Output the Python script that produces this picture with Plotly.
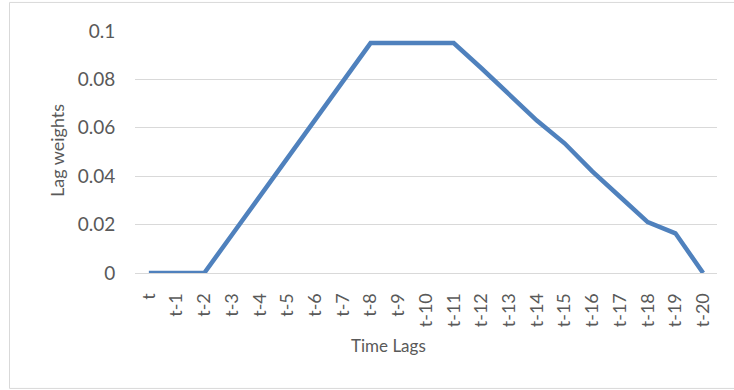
import plotly.graph_objects as go

lags = ["t"] + [f"t-{i}" for i in range(1, 21)]
weights = [0, 0, 0, 0.0158, 0.0317, 0.0475, 0.0633, 0.0792, 0.095, 0.095, 0.095,
           0.095, 0.0846, 0.0736, 0.063, 0.0536, 0.042, 0.0315, 0.021, 0.0164, 0]
y_ticks = [0, 0.02, 0.04, 0.06, 0.08, 0.1]
y_tick_text = ["0", "0.02", "0.04", "0.06", "0.08", "0.1"]

FONT = "Lato, Open Sans, sans-serif"
GREY = "#595959"

fig = go.Figure()
fig.add_trace(go.Scatter(x=lags, y=weights, mode="lines",
                         line=dict(color="#4f81bd", width=4.5), showlegend=False))

fig.update_layout(
    width=734, height=390,
    margin=dict(l=135, r=17, t=31, b=117, autoexpand=False),
    paper_bgcolor="white", plot_bgcolor="white",
    font=dict(family=FONT, size=18, color=GREY),
    xaxis=dict(
        type="category", range=[-0.5, 20.5], tickangle=-90, automargin=False,
        showgrid=False, showline=False, zeroline=False,
        ticks="outside", ticklen=12, tickcolor="rgba(0,0,0,0)",
        tickfont=dict(size=18, color=GREY),
    ),
    yaxis=dict(
        range=[0, 0.1], tickvals=y_ticks, ticktext=y_tick_text, automargin=False,
        showgrid=True, gridcolor="#d9d9d9", gridwidth=1,
        zeroline=True, zerolinecolor="#d9d9d9", zerolinewidth=1,
        showline=False,
        ticks="outside", ticklen=15, tickcolor="rgba(0,0,0,0)",
        tickfont=dict(size=19, color=GREY),
    ),
    annotations=[
        dict(text="Lag weights", xref="paper", yref="paper", x=-0.134, y=0.504,
             textangle=-90, showarrow=False, xanchor="center", yanchor="middle",
             font=dict(size=18, color=GREY)),
        dict(text="Time Lags", xref="paper", yref="paper", x=0.435, y=-0.298,
             showarrow=False, xanchor="center", yanchor="middle",
             font=dict(size=17, color=GREY)),
    ],
    shapes=[dict(type="rect", xref="paper", yref="paper",
                 x0=-0.2156, x1=1.05, y0=-0.477, y1=1.118,
                 line=dict(color="#d9d9d9", width=1), fillcolor="rgba(0,0,0,0)",
                 layer="below")],
)

fig.write_html("out.html", config={"displayModeBar": False},
               post_script="document.body.style.margin='0';")
